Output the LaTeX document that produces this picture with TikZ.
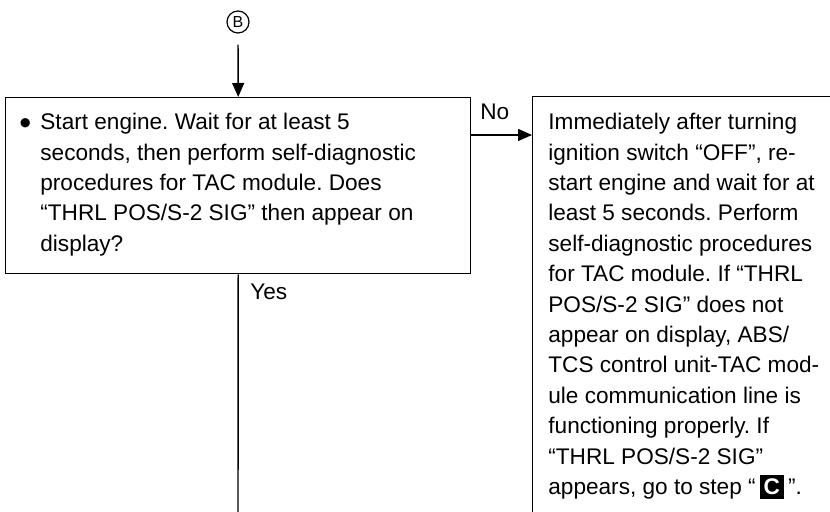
\documentclass[tikz,border=0pt]{standalone}
\usepackage{fontspec}
\setmainfont{Liberation Sans}
\usepackage{xcolor}
\usetikzlibrary{positioning,arrows.meta}
\frenchspacing

\begin{document}
\begin{tikzpicture}[
  x=0.5pt, y=-0.5pt,
  font=\fontsize{11.3}{15.2}\selectfont,
  box/.style={draw, line width=0.7pt, inner sep=0pt, anchor=north west},
  txt/.style={align=left, inner sep=0pt, anchor=north west},
  lbl/.style={inner sep=0pt, anchor=base west},
  arr/.style={-{Triangle[length=7pt,width=6pt]}, line width=0.7pt}
]
  \useasboundingbox (0,0) rectangle (830,512);
  \clip (0,0) rectangle (830,512);
  % step marker
  \node[circle, draw, line width=0.6pt, minimum size=11pt, inner sep=0pt,
        font=\fontsize{8}{9}\selectfont] (stepB) at (238,22) {B};
  % question box
  \node[box, minimum width=232.5pt, minimum height=88pt] (check) at (5,97) {};
  \node[txt] (checktxt) at (40,113) {\llap{\raisebox{-2.5pt}{\fontsize{17}{17}\selectfont\textbullet}\hspace{4.5pt}}Start engine. Wait for at least 5\\
    seconds, then perform self-diagnostic\\
    procedures for TAC module. Does\\
    “THRL POS/S-2 SIG” then appear on\\
    display?};
  % answer box (runs off the page)
  \node[box, minimum width=184pt, minimum height=232pt] (restart) at (532,96) {};
  \node[txt] (restarttxt) at (548,113) {Immediately after turning\\
    ignition switch “OFF”, re-\\
    start engine and wait for at\\
    least 5 seconds. Perform\\
    self-diagnostic procedures\\
    for TAC module. If “THRL\\
    POS/S-2 SIG” does not\\
    appear on display, ABS/\\
    TCS control unit-TAC mod-\\
    ule communication line is\\
    functioning properly. If\\
    “THRL POS/S-2 SIG”\\
    appears, go to step “\hspace{2pt}{\setlength\fboxsep{2pt}\colorbox{black}{\textcolor{white}{\bfseries C}}}\hspace{2pt}”.};
  \coordinate (noout) at (470,135);
  \coordinate (yesend) at (238,530);
  \node[lbl] (nolbl) at (480,120) {No};
  \node[lbl] (yeslbl) at (250,300) {Yes};
  \draw[arr, shorten <=5.5pt] (stepB.south) -- (check.north);
  \draw[arr] (noout) -- (noout -| restart.west);
  \draw[line width=0.7pt] (check.south) -- (yesend);
\end{tikzpicture}
\end{document}
